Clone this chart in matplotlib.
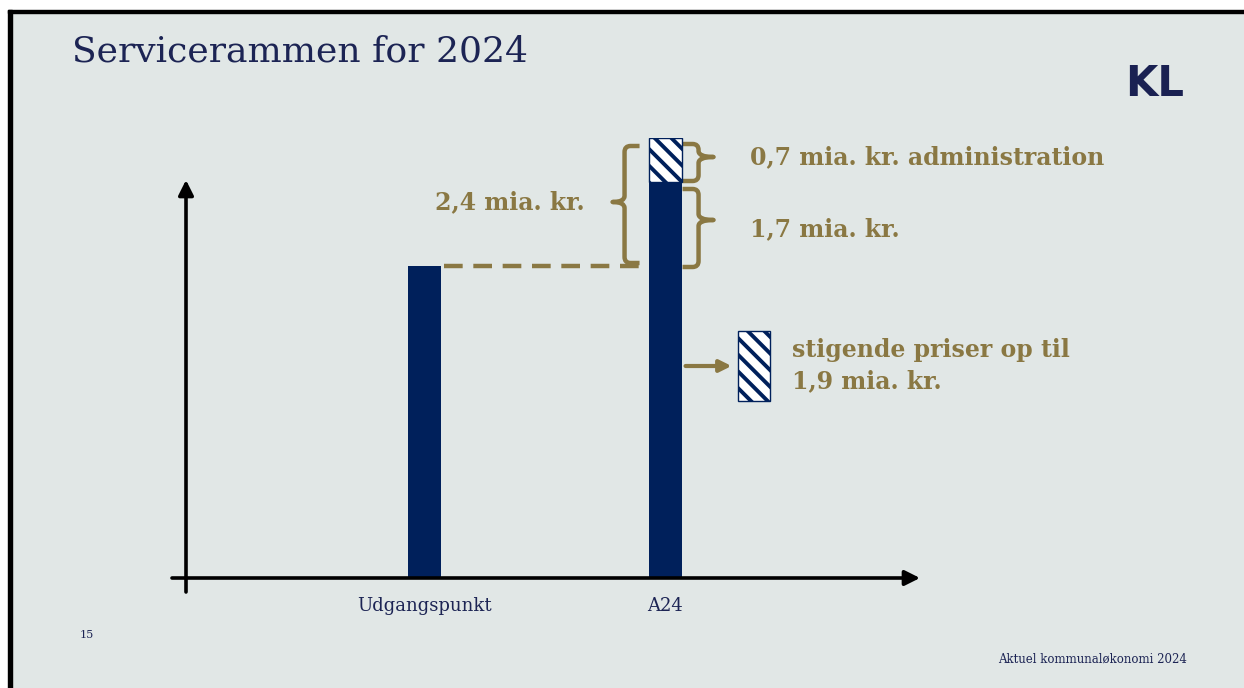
import matplotlib
matplotlib.use("Agg")
import matplotlib.pyplot as plt
from matplotlib.patches import Rectangle, PathPatch
from matplotlib.path import Path

plt.rcParams['hatch.linewidth'] = 2.8

# schematic values (not to scale)
categories = ['Udgangspunkt', 'A24']
base_values = [3.9, 4.95]
admin_value = 0.55
label_total = '2,4 mia. kr.'
label_admin = '0,7 mia. kr. administration'
label_service = '1,7 mia. kr.'
legend_lines = ['stigende priser op til', '1,9 mia. kr.']

navy = '#00205b'
gold = '#8a7843'
bg = '#e1e7e6'
textnavy = '#1c2454'

W, H = 1244, 688
fig = plt.figure(figsize=(W / 100, H / 100), dpi=100)
fig.patch.set_facecolor('white')

def fx(x):
    return x / W

def fy(y):
    return 1 - y / H

# slide background and border
fig.patches.append(Rectangle((fx(12), 0), 1 - fx(12), fy(13), transform=fig.transFigure,
                             color=bg, zorder=-2))
fig.patches.append(Rectangle((fx(8), 0), fx(4), fy(10), transform=fig.transFigure,
                             color='black', zorder=-1))
fig.patches.append(Rectangle((fx(8), fy(13)), 1 - fx(8), 3 / H, transform=fig.transFigure,
                             color='black', zorder=-1))

ax = fig.add_axes([fx(186), fy(578), (920 - 186) / W, (578 - 138) / H])
ax.set_xlim(-0.988, 2.058)
ax.set_ylim(0, 5.5)
ax.axis('off')
ax.patch.set_alpha(0)

px = 1 / 241   # one pixel in x data units
py = 1 / 80    # one pixel in y data units
bw = 0.137
xs = [0, 1]
hatch = '\\\\'

ax.bar(xs, base_values, width=bw, color=navy, zorder=3)
ax.bar(xs[1], admin_value, bottom=base_values[1], width=bw, color='white',
       edgecolor=navy, hatch=hatch, linewidth=1, zorder=3)

# axes with arrows
ax.annotate('', xy=(1, 0), xytext=(-14 / 734, 0), xycoords='axes fraction',
            arrowprops=dict(arrowstyle='-|>,head_length=0.9,head_width=0.45', color='black',
                            lw=2.6, shrinkA=0, shrinkB=0), annotation_clip=False)
ax.annotate('', xy=(0, (578 - 180) / 440), xytext=(0, -14 / 440), xycoords='axes fraction',
            arrowprops=dict(arrowstyle='-|>,head_length=0.9,head_width=0.45', color='black',
                            lw=2.6, shrinkA=0, shrinkB=0), annotation_clip=False)

# dashed connector
ax.plot([xs[0] + bw / 2 + 3 * px, xs[1] - bw / 2 - 3 * px], [base_values[0]] * 2,
        color=gold, lw=3.2, dashes=(4.2, 2.4), zorder=2)

def brace(x_vert, x_serif, x_nib, y0, y1, ymid, r=6):
    # curly brace; opens towards x_serif, nib points towards x_nib
    s = 1 if x_serif > x_vert else -1
    rx, ry = r * px, r * py
    verts = [(x_serif, y1), (x_vert + s * rx, y1), (x_vert, y1), (x_vert, y1 - ry),
             (x_vert, ymid + ry), (x_vert, ymid), (x_nib, ymid),
             (x_vert, ymid), (x_vert, ymid - ry),
             (x_vert, y0 + ry), (x_vert, y0), (x_vert + s * rx, y0), (x_serif, y0)]
    codes = [Path.MOVETO, Path.LINETO, Path.CURVE3, Path.CURVE3,
             Path.LINETO, Path.CURVE3, Path.CURVE3,
             Path.CURVE3, Path.CURVE3,
             Path.LINETO, Path.CURVE3, Path.CURVE3, Path.LINETO]
    ax.add_patch(PathPatch(Path(verts, codes), fill=False, edgecolor=gold, lw=3.2,
                           capstyle='butt', joinstyle='round', clip_on=False, zorder=2))

total = base_values[1] + admin_value
left = xs[1] - bw / 2
right = xs[1] + bw / 2
mid_total = (578 - 202) * py
mid_admin = base_values[1] + admin_value * 0.5 + 3 * py
mid_service = (base_values[0] + base_values[1]) / 2 + 4 * py
brace(left - 24 * px, left - 9 * px, left - 36 * px,
      base_values[0] + 3 * py, total - 8 * py, mid_total)
brace(right + 17 * px, right + 1 * px, right + 32 * px,
      base_values[1] + 1 * py, total - 6 * py, mid_admin)
brace(right + 17 * px, right + 1 * px, right + 32 * px,
      base_values[0] - 1 * py, base_values[1] - 7 * py, mid_service)

tk = dict(color=gold, fontsize=17, fontweight='bold', family='DejaVu Serif', va='center')
ax.text(left - 64 * px, mid_total, label_total, ha='right', **tk)
ax.text(right + 68 * px, mid_admin, label_admin, ha='left', **tk)
ax.text(right + 68 * px, (578 - 229) * py, label_service, ha='left', **tk)

# legend
leg_y = (578 - 366) * py
ax.annotate('', xy=(right + 50 * px, leg_y), xytext=(right + 4 * px, leg_y),
            arrowprops=dict(arrowstyle='-|>,head_length=0.7,head_width=0.35', color=gold,
                            lw=3, shrinkA=0, shrinkB=0), annotation_clip=False)
ax.add_patch(Rectangle((right + 56 * px, (578 - 401) * py), 32 * px, 70 * py,
                       facecolor='white', edgecolor=navy, hatch=hatch, lw=1, clip_on=False))
ax.text(right + 110 * px, (578 - 350) * py, legend_lines[0], ha='left', **tk)
ax.text(right + 110 * px, (578 - 381) * py, legend_lines[1], ha='left', **tk)

# category labels
for x, c in zip(xs, categories):
    ax.text(x, -28 * py, c, ha='center', va='center', color=textnavy, fontsize=13,
            family='DejaVu Serif')

fig.text(fx(72), fy(51), 'Servicerammen for 2024', color=textnavy, fontsize=26,
         family='DejaVu Serif', va='center', ha='left')
fig.text(fx(1155), fy(84), 'KL', color='#1a2152', fontsize=30, fontweight='heavy',
         family='DejaVu Sans', va='center', ha='center')
fig.text(fx(87), fy(635), '15', color=textnavy, fontsize=8, family='DejaVu Serif',
         va='center', ha='center')
fig.text(fx(1092), fy(659), 'Aktuel kommunaløkonomi 2024', color=textnavy, fontsize=8.5,
         family='DejaVu Serif', va='center', ha='center')

fig.savefig('out.png', dpi=100, facecolor=fig.get_facecolor())
